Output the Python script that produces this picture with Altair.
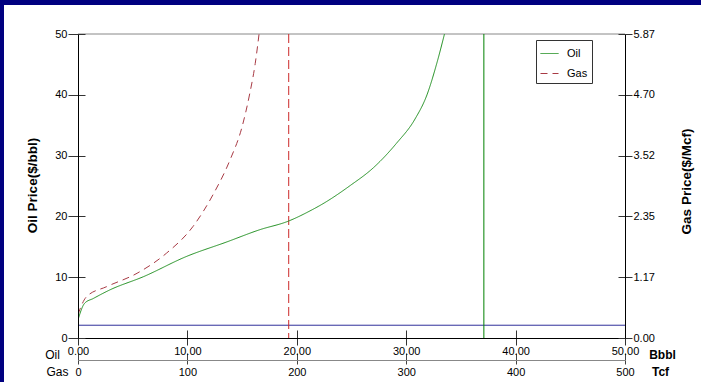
import altair as alt
import pandas as pd

# ---- data ----
oil_reserves = [0, 0.6, 1.4, 2.9, 6.0, 9.9, 13.6, 16.6, 19.2, 21.2, 22.5, 24.9, 27.0, 29.1, 30.8, 31.9, 32.8, 33.5]
oil_price = [3.0, 5.7, 6.5, 7.9, 10.1, 13.4, 15.8, 17.8, 19.2, 20.9, 22.2, 25.1, 28.0, 32.0, 36.0, 40.0, 45.2, 50.0]
gas_reserves = [0, 3, 7.9, 26, 54, 81, 105, 124, 139, 150, 157, 162, 165.5]
gas_price = [0.45, 0.62, 0.80, 0.99, 1.25, 1.64, 2.15, 2.79, 3.44, 4.08, 4.72, 5.30, 5.87]
oil_cutoff = [37.1]
gas_cutoff = [192.6]
base_price = [2.1]
gas_top = [5.87]

oil_x_ticks = [0, 10, 20, 30, 40, 50]
oil_y_ticks = [0, 10, 20, 30, 40, 50]
gas_x_ticks = [0, 100, 200, 300, 400, 500]
gas_y_ticks = [0, 1.174, 2.348, 3.522, 4.696, 5.87]

OIL_X = [0, 50]
OIL_Y = [0, 50]
GAS_X = [0, 500]
GAS_Y = [0, 5.87]

oil_df = pd.DataFrame({"x": oil_reserves, "y": oil_price, "series": "Oil"})
gas_df = pd.DataFrame({"x": gas_reserves, "y": gas_price, "series": "Gas"})

FONT = "Liberation Sans"
W, H = 547, 304
AX = dict(zindex=1, grid=False, labelFont=FONT, labelFontSize=11, labelColor="black",
          titleFont=FONT, titleColor="black", domainWidth=1, tickWidth=1, labelFlush=False)

color_scale = alt.Scale(domain=["Oil", "Gas"], range=["#1f8f1f", "#a83a44"])
dash_scale = alt.Scale(domain=["Oil", "Gas"], range=[[1, 0], [7, 5]])
legend = alt.Legend(
    title=None, orient="none", legendX=458, legendY=6, symbolType="stroke",
    symbolSize=324, symbolStrokeWidth=1, labelFont=FONT, labelFontSize=11,
    labelColor="black", strokeColor="#333333", fillColor="white", padding=4,
    rowPadding=5, labelOffset=8,
)

# white panel inside the navy frame
panel = alt.Chart(pd.DataFrame({"a": [0]})).mark_rect(color="white").encode(
    x=alt.value(-74), x2=alt.value(623), y=alt.value(-29), y2=alt.value(348)
)

oil_line = alt.Chart(oil_df).mark_line(clip=True, strokeWidth=1, interpolate="monotone").encode(
    x=alt.X("x:Q", scale=alt.Scale(domain=OIL_X, nice=False, zero=False),
            axis=alt.Axis(orient="bottom", values=oil_x_ticks, format=".2f", tickSize=7,
                          labelPadding=0, domainColor="black", tickColor="#333333",
                          title="Oil", titleX=-26, titleY=16, titleAlign="center",
                          titleBaseline="middle", titleAngle=0, titleFontWeight="normal",
                          titleFontSize=12, **AX)),
    y=alt.Y("y:Q", scale=alt.Scale(domain=OIL_Y, nice=False),
            axis=alt.Axis(orient="left", values=oil_y_ticks, tickSize=10, labelPadding=1,
                          domainColor="black", tickColor="#333333",
                          title="Oil Price($/bbl)", titleX=-46, titleY=151, titleAngle=270,
                          titleAlign="center", titleBaseline="middle", titleFontWeight="bold",
                          titleFontSize=13.5, **AX)),
    color=alt.Color("series:N", scale=color_scale, legend=legend),
    strokeDash=alt.StrokeDash("series:N", scale=dash_scale, legend=legend),
)

gas_line = alt.Chart(gas_df).mark_line(clip=True, strokeWidth=1, interpolate="monotone").encode(
    x=alt.X("x:Q", scale=alt.Scale(domain=GAS_X, nice=False, zero=False),
            axis=alt.Axis(orient="bottom", offset=22, values=gas_x_ticks, format="d", tickSize=4,
                          labelPadding=2, domainColor="#888888", tickColor="#444444",
                          title="Gas", titleX=-21, titleY=11, titleAlign="center",
                          titleBaseline="middle", titleAngle=0, titleFontWeight="normal",
                          titleFontSize=12, **AX)),
    y=alt.Y("y:Q", scale=alt.Scale(domain=GAS_Y, nice=False),
            axis=alt.Axis(orient="right", values=gas_y_ticks, format=".2f", tickSize=7,
                          labelPadding=1, domainColor="black", tickColor="#333333",
                          title="Gas Price($/Mcf)", titleX=61, titleY=147, titleAngle=270,
                          titleAlign="center", titleBaseline="middle", titleFontWeight="bold",
                          titleFontSize=13.5, **AX)),
    color=alt.Color("series:N", scale=color_scale, legend=legend),
    strokeDash=alt.StrokeDash("series:N", scale=dash_scale, legend=legend),
)

oil_vrule = alt.Chart(pd.DataFrame({"x": oil_cutoff})).mark_rule(color="#008000", strokeWidth=1).encode(
    x=alt.X("x:Q", scale=alt.Scale(domain=OIL_X, nice=False, zero=False),
            axis=alt.Axis(orient="top", offset=-H, values=oil_x_ticks, labels=False, domain=False,
                          tickSize=8, tickColor="#333333",
                          title="Bbbl", titleX=584, titleY=16, titleAlign="center",
                          titleBaseline="middle", titleAngle=0, titleFontWeight="bold",
                          titleFontSize=12, **AX))
)

gas_vrule = alt.Chart(pd.DataFrame({"x": gas_cutoff})).mark_rule(
    color="#cc2a2a", strokeWidth=1, strokeDash=[9, 4]
).encode(
    x=alt.X("x:Q", scale=alt.Scale(domain=GAS_X, nice=False, zero=False),
            axis=alt.Axis(orient="top", offset=-(H + 22), values=gas_x_ticks, labels=False,
                          domain=False, tickSize=7, tickColor="#444444",
                          title="Tcf", titleX=582, titleY=11, titleAlign="center",
                          titleBaseline="middle", titleAngle=0, titleFontWeight="bold",
                          titleFontSize=12, **AX))
)

base_rule = alt.Chart(pd.DataFrame({"y": base_price})).mark_rule(color="#30309a", strokeWidth=1).encode(
    y=alt.Y("y:Q", scale=alt.Scale(domain=OIL_Y, nice=False),
            axis=alt.Axis(orient="right", offset=-W, values=oil_y_ticks, labels=False,
                          domain=False, tickSize=7, tickColor="#333333", title=None, **AX))
)

top_rule = alt.Chart(pd.DataFrame({"y": gas_top})).mark_rule(color="#888888", strokeWidth=1).encode(
    y=alt.Y("y:Q", scale=alt.Scale(domain=GAS_Y, nice=False),
            axis=alt.Axis(orient="left", offset=-W, values=gas_y_ticks, labels=False,
                          domain=False, tickSize=7, tickColor="#333333", title=None, **AX))
)

chart = alt.layer(
    panel, base_rule, top_rule, oil_vrule, gas_vrule, oil_line, gas_line
).resolve_scale(
    x="independent", y="independent"
).properties(
    width=W, height=H,
    autosize=alt.AutoSizeParams(type="none"),
    padding={"left": 78, "top": 34, "right": 76, "bottom": 44},
    background="#000080",
).configure_view(
    stroke=None
)

chart.save("out.html", embed_options={"renderer": "svg", "actions": False})
